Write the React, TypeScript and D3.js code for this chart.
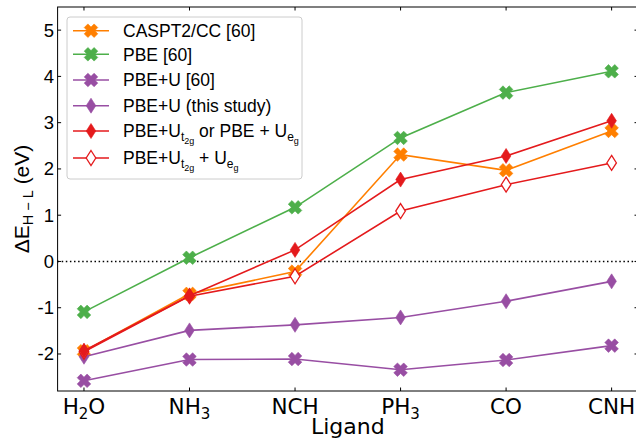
import React from 'react';
import * as d3 from 'd3';

// ligands on the x axis
const ligands = ['H2O', 'NH3', 'NCH', 'PH3', 'CO', 'CNH'];
const yTicks = [-2, -1, 0, 1, 2, 3, 4, 5];

// ΔE_H-L values (eV)
const caspt2 = [-1.94, -0.70, -0.22, 2.31, 1.97, 2.82];
const pbe = [-1.09, 0.08, 1.17, 2.67, 3.65, 4.11];
const pbeU60 = [-2.58, -2.12, -2.11, -2.34, -2.13, -1.82];
const pbeUThis = [-2.06, -1.49, -1.37, -1.21, -0.86, -0.43];
const pbeUt2g = [-1.93, -0.74, 0.25, 1.77, 2.28, 3.04];
const pbeUboth = [-1.95, -0.75, -0.32, 1.09, 1.66, 2.13];

var W = 636, H = 439,
    margin = {top: 7, right: 638, bottom: 391, left: 57.6},
    orange = '#ff7f00',
    green = '#4daf4a',
    purple = '#984ea3',
    red = '#e41a1c';

const sans = '"Liberation Sans", Arial, Helvetica, sans-serif';
const dejavu = '"DejaVu Sans", sans-serif';

const xScale = d3.scaleLinear().domain([-0.25, 5.25]).range([margin.left, margin.right]);
const yScale = d3.scaleLinear().domain([-2.8, 5.5]).range([margin.bottom, margin.top]);

// filled "X" marker (rotated plus)
function xMarkerPath(L = 7, a = 2.6) {
  const pts = [[a, L], [-a, L], [-a, a], [-L, a], [-L, -a], [-a, -a], [-a, -L], [a, -L], [a, -a], [L, -a], [L, a], [a, a]];
  const c = Math.SQRT1_2;
  return 'M' + pts.map(([x, y]) => `${(x - y) * c},${(x + y) * c}`).join('L') + 'Z';
}
const xPath = xMarkerPath();
const diamondPath = 'M0,-7.5L4.8,0L0,7.5L-4.8,0Z';

const series = [
  {name: 'caspt2', values: caspt2, color: orange, marker: 'x', open: false},
  {name: 'pbe', values: pbe, color: green, marker: 'x', open: false},
  {name: 'pbeU60', values: pbeU60, color: purple, marker: 'x', open: false},
  {name: 'pbeUThis', values: pbeUThis, color: purple, marker: 'd', open: false},
  {name: 'pbeUt2g', values: pbeUt2g, color: red, marker: 'd', open: false},
  {name: 'pbeUboth', values: pbeUboth, color: red, marker: 'd', open: true},
];
// open diamonds sit under the filled ones where they overlap
const drawOrder = [0, 1, 2, 3, 5, 4];

function Marker({kind, color, open, x, y}: any) {
  const d = kind === 'x' ? xPath : diamondPath;
  return (
    <path d={d} transform={`translate(${x},${y})`}
      fill={open ? '#fff' : color} stroke={color} strokeWidth={open ? 1.3 : 0.6} />
  );
}

function ligandLabel(l: string) {
  const m = l.match(/^([A-Z]+)(\d)(.*)$/);
  if (!m) return l;
  return [
    <tspan key="a">{m[1]}</tspan>,
    <tspan key="b" dy={5} fontSize={15}>{m[2]}</tspan>,
    <tspan key="c" dy={-5}>{m[3]}</tspan>,
  ];
}

const legendLabels: any[] = [
  'CASPT2/CC [60]',
  'PBE [60]',
  'PBE+U [60]',
  'PBE+U (this study)',
  [
    <tspan key="1">PBE+U</tspan>,
    <tspan key="2" dy={4} fontSize={12}>t</tspan>,
    <tspan key="3" dy={2.5} fontSize={9}>2g</tspan>,
    <tspan key="4" dy={-6.5}> or PBE + U</tspan>,
    <tspan key="5" dy={4} fontSize={12}>e</tspan>,
    <tspan key="6" dy={2.5} fontSize={9}>g</tspan>,
  ],
  [
    <tspan key="1">PBE+U</tspan>,
    <tspan key="2" dy={4} fontSize={12}>t</tspan>,
    <tspan key="3" dy={2.5} fontSize={9}>2g</tspan>,
    <tspan key="4" dy={-6.5}> + U</tspan>,
    <tspan key="5" dy={4} fontSize={12}>e</tspan>,
    <tspan key="6" dy={2.5} fontSize={9}>g</tspan>,
  ],
];
const legendY = [30.7, 54.3, 80, 105.7, 131, 158];

export default function App() {
  const line = d3.line<number>().x((d, i) => xScale(i)).y(d => yScale(d));
  const tickLen = 3.5;

  return (
    <svg width={W} height={H} style={{position: 'absolute', left: 0, top: 0}}>
      <rect x={0} y={0} width={W} height={H} fill="#fff" />

      {/* zero line */}
      <line x1={margin.left} x2={margin.right} y1={yScale(0)} y2={yScale(0)}
        stroke="#000" strokeWidth={1.5} strokeDasharray="1.5,2.6" />

      {drawOrder.map(k => series[k]).map(s => (
        <g key={s.name}>
          <path d={line(s.values) as string} fill="none" stroke={s.color} strokeWidth={1.6} />
          {s.values.map((v, i) => (
            <Marker key={i} kind={s.marker} color={s.color} open={s.open} x={xScale(i)} y={yScale(v)} />
          ))}
        </g>
      ))}

      {/* frame */}
      <rect x={margin.left} y={margin.top} width={margin.right - margin.left} height={margin.bottom - margin.top}
        fill="none" stroke="#000" strokeWidth={1} />

      {/* y ticks (inside, both sides) */}
      {yTicks.map(t => (
        <g key={t}>
          <line x1={margin.left} x2={margin.left + tickLen} y1={yScale(t)} y2={yScale(t)} stroke="#000" />
          <line x1={margin.right} x2={margin.right - tickLen} y1={yScale(t)} y2={yScale(t)} stroke="#000" />
          <text x={54} y={yScale(t) + 6.5} textAnchor="end" fontFamily={sans} fontSize={18.5}>{t}</text>
        </g>
      ))}

      {/* x ticks (inside, top and bottom) */}
      {ligands.map((l, i) => (
        <g key={l}>
          <line x1={xScale(i)} x2={xScale(i)} y1={margin.bottom} y2={margin.bottom - tickLen} stroke="#000" />
          <line x1={xScale(i)} x2={xScale(i)} y1={margin.top} y2={margin.top + tickLen} stroke="#000" />
          <text x={xScale(i)} y={414} textAnchor="middle" fontFamily={dejavu} fontSize={21.5}>{ligandLabel(l)}</text>
        </g>
      ))}

      <text x={(margin.left + margin.right) / 2} y={434} textAnchor="middle" fontFamily={dejavu} fontSize={22}>Ligand</text>

      <text transform={`translate(28.5,${(margin.top + margin.bottom) / 2}) rotate(-90)`} textAnchor="middle"
        fontFamily={sans} fontSize={21}>
        ΔE<tspan dy={4} fontSize={14.5}>H − L</tspan><tspan dy={-4}> (eV)</tspan>
      </text>

      {/* legend */}
      <rect x={67} y={17} width={235} height={162} rx={3} fill="#fff" fillOpacity={0.8} stroke="#cccccc" strokeWidth={1} />
      {series.map((s, i) => (
        <g key={s.name}>
          <line x1={73} x2={109} y1={legendY[i]} y2={legendY[i]} stroke={s.color} strokeWidth={1.6} />
          <Marker kind={s.marker} color={s.color} open={s.open} x={91} y={legendY[i]} />
          <text x={123} y={legendY[i] + 6.3} fontFamily={sans} fontSize={17.5}>{legendLabels[i]}</text>
        </g>
      ))}
    </svg>
  );
}
